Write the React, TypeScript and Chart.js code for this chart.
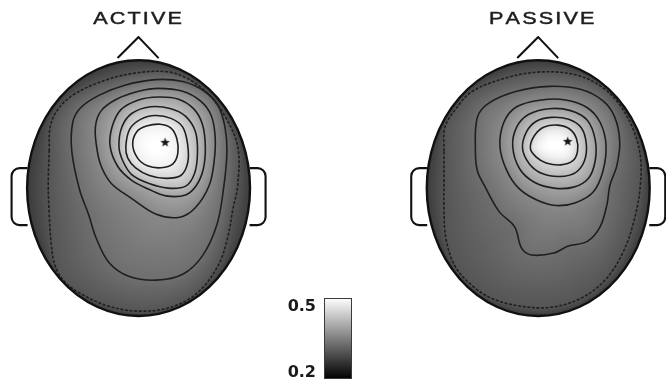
import React, { useEffect, useRef } from 'react';
import { Chart, registerables } from 'chart.js';

Chart.register(...registerables);

type Pt = [number, number];

// ---------------- data (head-local coordinates, y grows downward) ----------------
const headTitles = ['ACTIVE', 'PASSIVE'];
const colorbarLabels = ['0.5', '0.2'];
const colorbarRange = [0.2, 0.5];
const rimValue = 0.27;
const peakValue = 0.5;

const activeLevels = [0.30, 0.33, 0.36, 0.39, 0.42, 0.45, 0.48];
const passiveLevels = [0.30, 0.33, 0.36, 0.39, 0.42, 0.45];

const activeC1: Pt[] = [[-91,-38],[-90,-63],[-83,-80],[-67,-96],[-35,-111],[-2,-119],[30,-120],[50,-113],[70,-98],[87,-76],[101,-43],[101,-3],[96,22],[91,50],[81,80],[60,108],[33,123],[0,127],[-30,122],[-57,110],[-75,97],[-85,80],[-89,57],[-91,27],[-92,-3]];
const activeC2: Pt[] = [[-68,-38],[-67,-68],[-59,-83],[-40,-96],[-15,-106],[17,-112],[45,-110],[67,-100],[81,-85],[88,-63],[90,-38],[87,-3],[80,37],[65,70],[45,89],[18,95],[-10,91],[-30,77],[-43,52],[-51,27],[-60,2]];
const activeC3: Pt[] = [[-42,-38],[-44,-63],[-38,-80],[-22,-92],[0,-100],[20,-103],[45,-100],[63,-90],[74,-75],[78,-53],[77,-28],[72,-3],[58,20],[42,30],[18,27],[-8,10],[-27,-4],[-37,-20]];
const activeC4: Pt[] = [[-29,-43],[-27,-63],[-18,-81],[0,-91],[20,-94],[40,-92],[56,-82],[65,-66],[68,-43],[66,-20],[59,-3],[48,7],[28,8],[10,1],[-7,-8],[-21,-22]];
const activeC5: Pt[] = [[-20,-43],[-17,-63],[-7,-77],[12,-84],[33,-82],[48,-74],[58,-58],[60,-36],[57,-15],[48,-2],[30,0],[10,-5],[-7,-14],[-16,-28]];
const activeC6: Pt[] = [[-13,-43],[-9,-61],[2,-71],[17,-75],[33,-72],[45,-63],[50,-45],[50,-26],[43,-13],[28,-10],[11,-13],[-3,-21],[-11,-31]];
const activeC7: Pt[] = [[-6,-45],[-2,-58],[8,-64],[22,-66],[33,-62],[39,-51],[40,-36],[35,-25],[23,-21],[9,-23],[-1,-31]];
const activePeak: Pt = [27, -47];

const passiveC1: Pt[] = [[-96,-38],[-95,-63],[-83,-83],[-67,-100],[-32,-114],[3,-120],[38,-117],[64,-105],[83,-86],[97,-60],[104,-33],[104,-3],[98,32],[86,67],[68,95],[43,114],[13,123],[-17,122],[-47,114],[-68,100],[-85,80],[-94,52],[-96,22],[-96,-8]];
const passiveC2: Pt[] = [[-64,-38],[-62,-73],[-50,-88],[-22,-100],[11,-105],[43,-102],[66,-90],[78,-73],[83,-48],[80,-23],[73,-3],[70,17],[63,40],[50,55],[30,60],[16,67],[-7,69],[-17,62],[-24,40],[-40,24],[-55,-3],[-62,-18]];
const passiveC3: Pt[] = [[-39,-43],[-35,-68],[-22,-84],[3,-91],[28,-91],[50,-83],[63,-68],[69,-45],[66,-18],[56,4],[38,15],[18,18],[-2,12],[-20,0],[-32,-18]];
const passiveC4: Pt[] = [[-26,-43],[-22,-63],[-10,-76],[11,-82],[33,-80],[50,-70],[58,-50],[58,-28],[51,-10],[36,-1],[16,0],[-4,-6],[-19,-20]];
const passiveC5: Pt[] = [[-16,-41],[-12,-58],[-2,-69],[13,-73],[31,-71],[44,-62],[49,-45],[47,-28],[38,-16],[22,-12],[4,-15],[-9,-25]];
const passiveC6: Pt[] = [[-8,-41],[-4,-54],[6,-63],[20,-65],[32,-61],[39,-51],[40,-38],[35,-28],[23,-24],[8,-26],[-2,-32]];
const passivePeak: Pt = [30, -48];

const activeContours = [activeC1, activeC2, activeC3, activeC4, activeC5, activeC6, activeC7];
const passiveContours = [passiveC1, passiveC2, passiveC3, passiveC4, passiveC5, passiveC6];

// ---------------- layout / style ----------------
const W = 666, H = 383;
const X_MIN = -135, X_MAX = 531, Y_MIN = -188, Y_MAX = 195;
const HEAD_RX = 113.5, HEAD_RY = 132;
const headShift = [0, 407];
const titleShift = [-1, 3.5];
const LINE = '#1f1f1f';

const heads = [
  { title: headTitles[0], shift: headShift[0], contours: activeContours, levels: activeLevels, peak: activePeak },
  { title: headTitles[1], shift: headShift[1], contours: passiveContours, levels: passiveLevels, peak: passivePeak },
];

function grayOf(v: number) {
  const t = Math.max(0, Math.min(1, (v - colorbarRange[0]) / (colorbarRange[1] - colorbarRange[0])));
  return Math.round(t * 255);
}

function splineLoop(pts: Pt[], t = 0.35, steps = 5): Pt[] {
  const n = pts.length;
  const cps = pts.map((cur, i) => {
    const prev = pts[(i - 1 + n) % n], next = pts[(i + 1) % n];
    const d01 = Math.hypot(cur[0] - prev[0], cur[1] - prev[1]);
    const d12 = Math.hypot(next[0] - cur[0], next[1] - cur[1]);
    const s01 = d01 / (d01 + d12 || 1), s12 = d12 / (d01 + d12 || 1);
    const fa = t * s01, fb = t * s12;
    return {
      p: [cur[0] - fa * (next[0] - prev[0]), cur[1] - fa * (next[1] - prev[1])] as Pt,
      n: [cur[0] + fb * (next[0] - prev[0]), cur[1] + fb * (next[1] - prev[1])] as Pt,
    };
  });
  const out: Pt[] = [];
  for (let i = 0; i < n; i++) {
    const j = (i + 1) % n;
    const p0 = pts[i], c1 = cps[i].n, c2 = cps[j].p, p3 = pts[j];
    for (let s = 0; s < steps; s++) {
      const u = s / steps, v = 1 - u;
      out.push([
        v * v * v * p0[0] + 3 * v * v * u * c1[0] + 3 * v * u * u * c2[0] + u * u * u * p3[0],
        v * v * v * p0[1] + 3 * v * v * u * c1[1] + 3 * v * u * u * c2[1] + u * u * u * p3[1],
      ]);
    }
  }
  return out;
}

function inside(poly: Pt[], x: number, y: number) {
  let c = false;
  for (let i = 0, j = poly.length - 1; i < poly.length; j = i++) {
    const xi = poly[i][0], yi = poly[i][1], xj = poly[j][0], yj = poly[j][1];
    if ((yi > y) !== (yj > y) && x < ((xj - xi) * (y - yi)) / (yj - yi) + xi) c = !c;
  }
  return c;
}

function dist(poly: Pt[], x: number, y: number) {
  let best = Infinity;
  for (let i = 0, j = poly.length - 1; i < poly.length; j = i++) {
    const ax = poly[j][0], ay = poly[j][1], bx = poly[i][0], by = poly[i][1];
    const dx = bx - ax, dy = by - ay;
    const l2 = dx * dx + dy * dy || 1;
    let t = ((x - ax) * dx + (y - ay) * dy) / l2;
    t = Math.max(0, Math.min(1, t));
    const qx = ax + t * dx - x, qy = ay + t * dy - y;
    const d = qx * qx + qy * qy;
    if (d < best) best = d;
  }
  return Math.sqrt(best);
}

function renderField(chart: any, head: any) {
  const xs = chart.scales.x, ys = chart.scales.y;
  const cx = xs.getPixelForValue(head.shift), cy = ys.getPixelForValue(0);
  const rx = xs.getPixelForValue(head.shift + HEAD_RX) - cx;
  const ry = ys.getPixelForValue(HEAD_RY) - cy;
  const polys: Pt[][] = head.contours.map((c: Pt[]) =>
    splineLoop(c.map(([x, y]) => [xs.getPixelForValue(x + head.shift), ys.getPixelForValue(y)] as Pt)));
  const L: number[] = head.levels;
  const n = polys.length;
  const inner = polys[n - 1];
  let mx = 0, my = 0;
  inner.forEach((p) => { mx += p[0]; my += p[1]; });
  mx /= inner.length; my /= inner.length;
  const dMax = Math.max(4, dist(inner, mx, my));
  const x0 = Math.floor(cx - rx - 3), y0 = Math.floor(cy - ry - 3);
  const w = Math.ceil(2 * rx + 6), h = Math.ceil(2 * ry + 6);
  const off = document.createElement('canvas');
  off.width = w; off.height = h;
  const octx = off.getContext('2d')!;
  const img = octx.createImageData(w, h);
  const rm = (rx + ry) / 2;
  for (let py = 0; py < h; py++) {
    for (let px = 0; px < w; px++) {
      const X = x0 + px + 0.5, Y = y0 + py + 0.5;
      const r = Math.hypot((X - cx) / rx, (Y - cy) / ry);
      if (r > 1.05) continue;
      let k = 0;
      while (k < n && inside(polys[k], X, Y)) k++;
      let v: number;
      if (k === 0) {
        const d1 = dist(polys[0], X, Y);
        const dE = Math.max(0.3, (1 - r) * rm);
        v = L[0] + (rimValue - L[0]) * (d1 / (d1 + dE));
      } else if (k === n) {
        const d = dist(polys[n - 1], X, Y);
        const f = Math.min(1, d / dMax);
        v = L[n - 1] + (peakValue - L[n - 1]) * (1 - (1 - f) * (1 - f));
      } else {
        const a = dist(polys[k - 1], X, Y), b = dist(polys[k], X, Y);
        v = L[k - 1] + (L[k] - L[k - 1]) * (a / (a + b || 1));
      }
      const g = grayOf(v);
      const idx = (py * w + px) * 4;
      img.data[idx] = g; img.data[idx + 1] = g; img.data[idx + 2] = g; img.data[idx + 3] = 255;
    }
  }
  octx.putImageData(img, 0, 0);
  return { canvas: off, x0, y0, cx, cy, rx, ry };
}

function makeStar() {
  const c = document.createElement('canvas');
  c.width = 11; c.height = 11;
  const g = c.getContext('2d')!;
  g.beginPath();
  for (let i = 0; i < 10; i++) {
    const r = i % 2 === 0 ? 5 : 2.1;
    const a = -Math.PI / 2 + (i * Math.PI) / 5;
    g.lineTo(5.5 + r * Math.cos(a), 5.5 + r * Math.sin(a));
  }
  g.closePath();
  g.fillStyle = '#151515';
  g.fill();
  return c;
}

function drawSpacedText(ctx: CanvasRenderingContext2D, text: string, cx: number, baseline: number, spacing: number, sx: number) {
  const widths = Array.from(text).map((ch) => ctx.measureText(ch).width);
  const total = widths.reduce((a, b) => a + b, 0) + spacing * (widths.length - 1);
  ctx.save();
  ctx.translate(cx - (sx * total) / 2, baseline);
  ctx.scale(sx, 1);
  let x = 0;
  Array.from(text).forEach((ch, i) => {
    ctx.fillText(ch, x, 0);
    ctx.strokeText(ch, x, 0);
    x += widths[i] + spacing;
  });
  ctx.restore();
}

export default function App() {
  const ref = useRef<HTMLCanvasElement | null>(null);

  useEffect(() => {
    if (!ref.current) return;
    const star = makeStar();
    const datasets: any[] = [];
    const contourHead: (number | undefined)[] = [];

    heads.forEach((h, hi) => {
      h.contours.forEach((c, ci) => {
        const n = c.length;
        const loop = [c[n - 1], ...c, c[0], c[1]];
        const last = loop.length - 1;
        datasets.push({
          data: loop.map(([x, y]) => ({ x: x + h.shift, y })),
          showLine: true,
          pointRadius: 0,
          borderColor: LINE,
          borderWidth: 1.6,
          borderDash: ci === 0 ? [3, 1.6] : [],
          tension: 0.35,
          fill: false,
          segment: {
            borderColor: (ctx: any) =>
              ctx.p0DataIndex === 0 || ctx.p1DataIndex === last ? 'rgba(0,0,0,0)' : undefined,
          },
        });
        contourHead.push(hi);
      });
      datasets.push({
        data: [{ x: h.peak[0] + h.shift, y: h.peak[1] }],
        showLine: false,
        pointStyle: star,
        pointRadius: 5,
      });
      contourHead.push(undefined);
    });

    let fields: any[] | null = null;

    const headPlugin = {
      id: 'headPlugin',
      beforeDatasetsDraw(chart: any) {
        const ctx = chart.ctx as CanvasRenderingContext2D;
        if (!fields) fields = heads.map((h) => renderField(chart, h));
        fields.forEach((f) => {
          const { cx, cy, rx, ry } = f;
          ctx.save();
          ctx.strokeStyle = '#111';
          ctx.lineWidth = 2.1;
          ctx.lineJoin = 'round';
          // ears
          [-1, 1].forEach((s) => {
            const xa = cx + s * 111, xb = cx + s * 127;
            const ya = cy - 20, yb = cy + 37;
            ctx.beginPath();
            ctx.moveTo(xa, ya);
            ctx.arcTo(xb, ya, xb, yb, 8);
            ctx.arcTo(xb, yb, xa, yb, 8);
            ctx.lineTo(xa, yb);
            ctx.stroke();
          });
          // nose
          ctx.beginPath();
          ctx.moveTo(cx - 21, cy - 130);
          ctx.lineTo(cx, cy - 151);
          ctx.lineTo(cx + 20, cy - 130);
          ctx.stroke();
          // field
          ctx.beginPath();
          ctx.ellipse(cx, cy, rx, ry, 0, 0, Math.PI * 2);
          ctx.clip();
          ctx.drawImage(f.canvas, f.x0, f.y0);
          ctx.restore();
        });
      },
      beforeDatasetDraw(chart: any, args: any) {
        const hi = contourHead[args.index];
        if (hi === undefined || !fields) return;
        const f = fields[hi];
        const ctx = chart.ctx as CanvasRenderingContext2D;
        ctx.save();
        ctx.beginPath();
        ctx.ellipse(f.cx, f.cy, f.rx - 0.5, f.ry - 0.5, 0, 0, Math.PI * 2);
        ctx.clip();
      },
      afterDatasetDraw(chart: any, args: any) {
        const hi = contourHead[args.index];
        if (hi === undefined || !fields) return;
        chart.ctx.restore();
      },
      afterDatasetsDraw(chart: any) {
        const ctx = chart.ctx as CanvasRenderingContext2D;
        if (!fields) return;
        fields.forEach((f, hi) => {
          ctx.save();
          ctx.strokeStyle = '#111';
          ctx.lineWidth = 2.4;
          ctx.beginPath();
          ctx.ellipse(f.cx, f.cy, f.rx, f.ry, 0, 0, Math.PI * 2);
          ctx.stroke();
          ctx.restore();

          // title
          ctx.save();
          ctx.font = '16px "Liberation Sans", Arial, sans-serif';
          ctx.fillStyle = '#1e1e1e';
          ctx.strokeStyle = '#1e1e1e';
          ctx.lineWidth = 0.45;
          ctx.textAlign = 'left';
          ctx.textBaseline = 'alphabetic';
          drawSpacedText(ctx, heads[hi].title, f.cx + titleShift[hi], 24, 1.6, 1.35);
          ctx.restore();
        });

        // colorbar
        const bx = 324, by = 298, bw = 28, bh = 81;
        ctx.save();
        const grad = ctx.createLinearGradient(0, by, 0, by + bh);
        const steps = 12;
        for (let i = 0; i <= steps; i++) {
          const v = colorbarRange[1] - ((colorbarRange[1] - colorbarRange[0]) * i) / steps;
          const g = grayOf(v);
          grad.addColorStop(i / steps, `rgb(${g},${g},${g})`);
        }
        ctx.fillStyle = grad;
        ctx.fillRect(bx, by, bw, bh);
        ctx.strokeStyle = '#3a3a3a';
        ctx.lineWidth = 1;
        ctx.strokeRect(bx + 0.5, by + 0.5, bw - 1, bh - 1);
        ctx.font = 'bold 16px "DejaVu Sans", sans-serif';
        ctx.fillStyle = '#1a1a1a';
        ctx.textAlign = 'right';
        ctx.textBaseline = 'alphabetic';
        ctx.fillText(colorbarLabels[0], 316, 311);
        ctx.fillText(colorbarLabels[1], 316, 377);
        ctx.restore();
      },
    };

    const chart = new Chart(ref.current, {
      type: 'scatter',
      data: { datasets },
      options: {
        responsive: false,
        animation: false,
        devicePixelRatio: 1,
        events: [],
        layout: { padding: 0 },
        plugins: { legend: { display: false }, tooltip: { enabled: false }, title: { display: false } },
        scales: {
          x: { type: 'linear', min: X_MIN, max: X_MAX, display: false },
          y: { type: 'linear', min: Y_MIN, max: Y_MAX, reverse: true, display: false },
        },
      } as any,
      plugins: [headPlugin as any],
    });
    return () => chart.destroy();
  }, []);

  return (
    <div style={{ position: 'fixed', left: 0, top: 0, width: W, height: H, background: '#fff' }}>
      <canvas ref={ref} width={W} height={H} style={{ display: 'block' }} />
    </div>
  );
}
